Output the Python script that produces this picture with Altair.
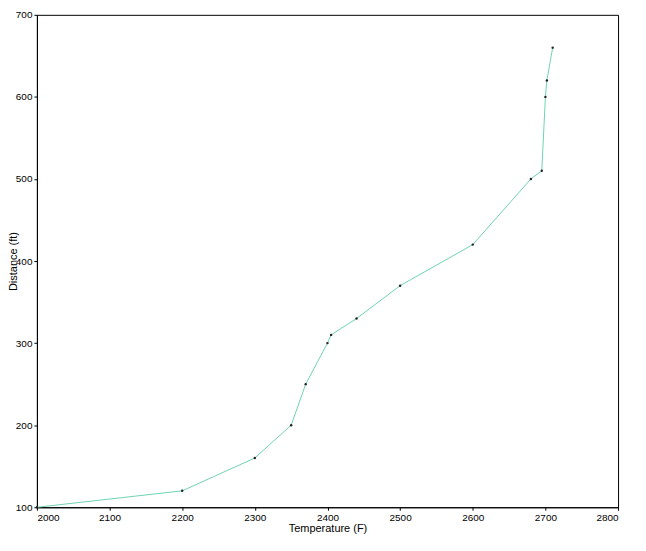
import altair as alt
import pandas as pd

temperature = [2000, 2200, 2300, 2350, 2370, 2400, 2405, 2440, 2500, 2600, 2680, 2695, 2700, 2702, 2710]
distance = [100, 120, 160, 200, 250, 300, 310, 330, 370, 420, 500, 510, 600, 620, 660]

df = pd.DataFrame({"temp": temperature, "dist": distance})

x = alt.X("temp:Q", scale=alt.Scale(domain=[2000, 2800], nice=False),
          axis=alt.Axis(title="Temperature (F)", values=list(range(2000, 2801, 100)), format="d",
                        tickSize=3, labelPadding=2, titlePadding=0, grid=False))
y = alt.Y("dist:Q", scale=alt.Scale(domain=[100, 700], nice=False),
          axis=alt.Axis(title="Distance (ft)", values=list(range(100, 701, 100)), format="d",
                        tickSize=3, labelPadding=2, titleX=-18, titleY=247, grid=False))

line = alt.Chart(df).mark_line(color="#6fd3b0", strokeWidth=1).encode(x=x, y=y)
pts = alt.Chart(df).mark_point(filled=True, color="#222222", size=6, opacity=1).encode(x=x, y=y)

chart = (line + pts).properties(
    width=583, height=494,
    autosize=alt.AutoSizeParams(type="none"),
    padding={"left": 29, "top": 6, "right": 20, "bottom": 30},
).configure_view(stroke="black", strokeWidth=1).configure_axis(
    labelFont="Liberation Sans", titleFont="Liberation Sans",
    labelFontSize=10, titleFontSize=11, titleFontWeight="normal",
    labelColor="black", titleColor="black", domainColor="black", tickColor="black",
)

chart.save("out.html", embed_options={"renderer": "svg", "actions": False})
